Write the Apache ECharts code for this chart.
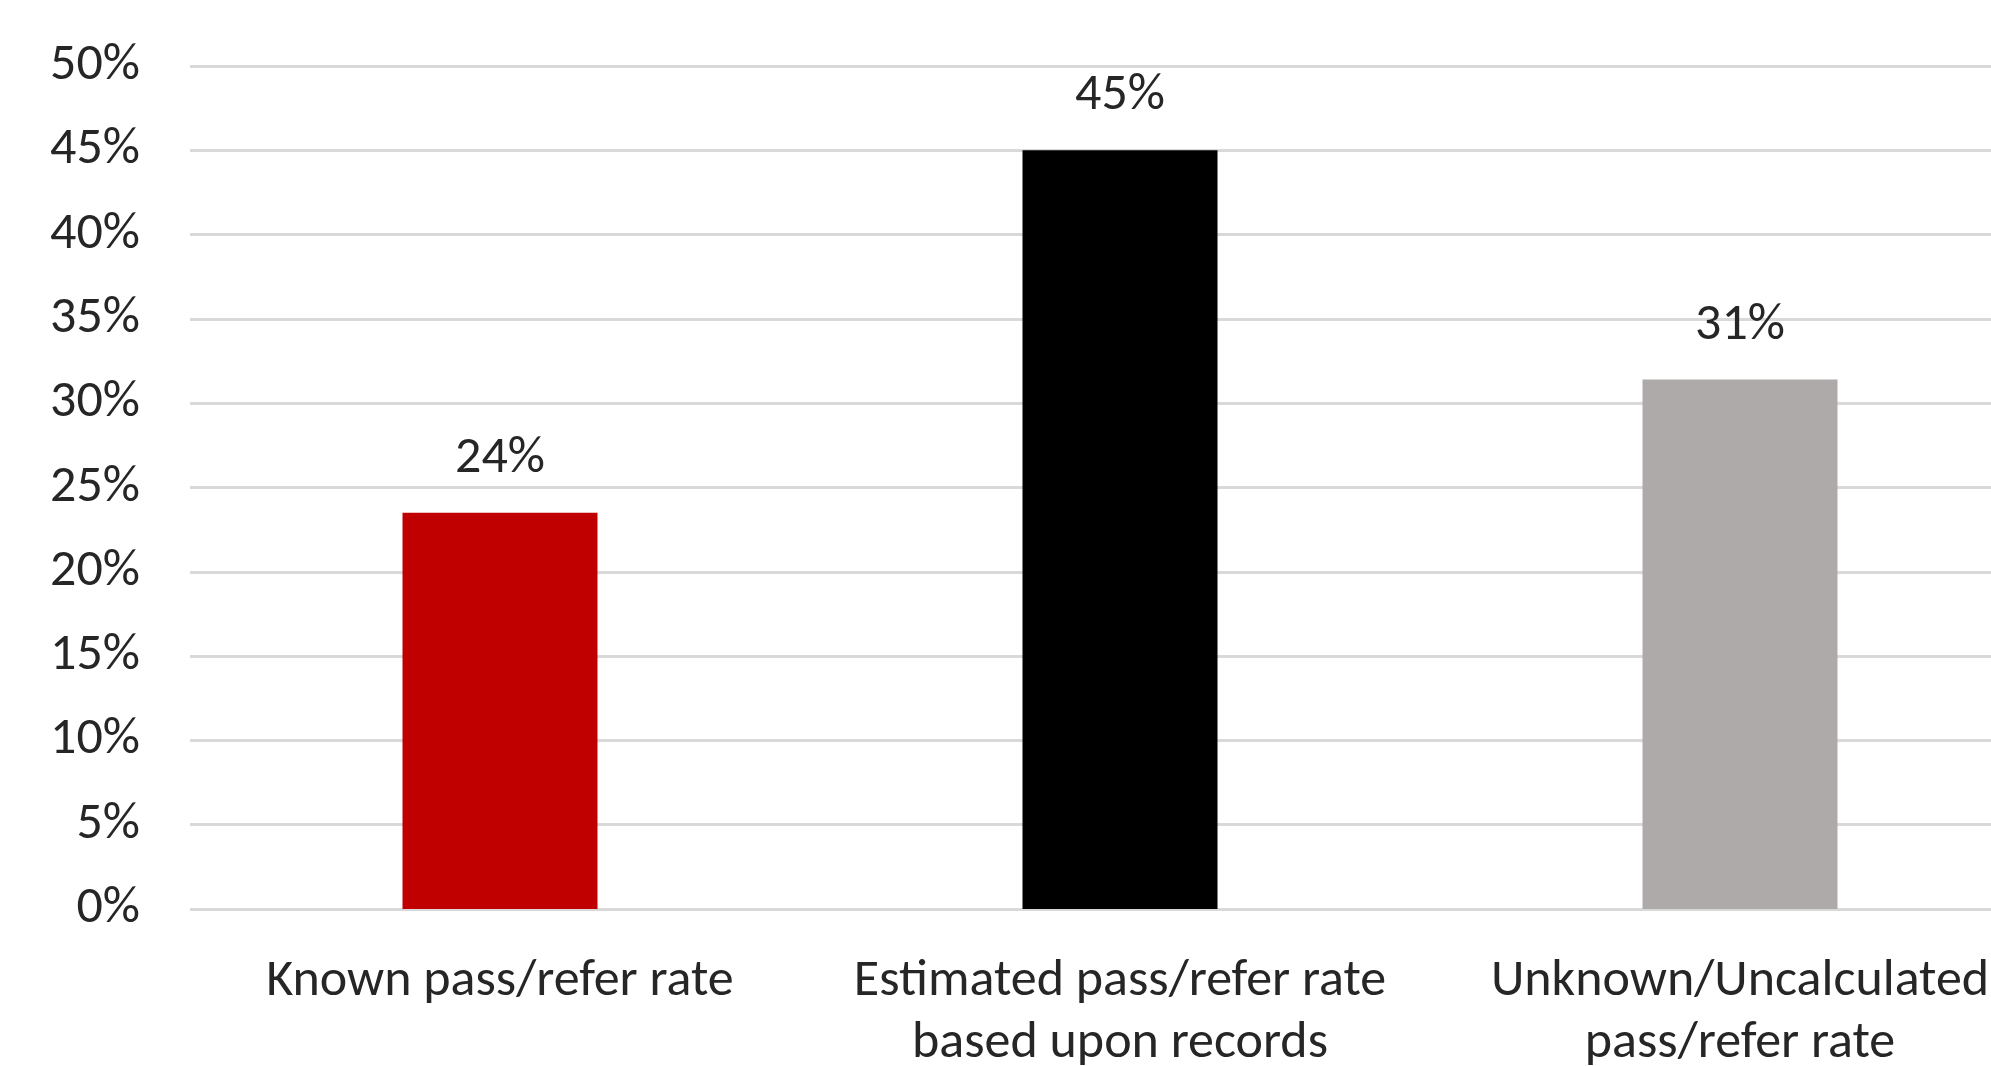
<!DOCTYPE html>
<html lang="en">

<head>
    <meta charset="UTF-8">
    <title>Pass/refer rates</title>
    <script src="https://cdn.jsdelivr.net/npm/echarts@6/dist/echarts.min.js"></script>
    <style>
        html, body { margin: 0; padding: 0; background: #fff; }
        #main { width: 1991px; height: 1066px; }
    </style>
</head>

<body>
    <div id="main"></div>
    <script>
        const categories = ['Known pass/refer rate', 'Estimated pass/refer rate\nbased upon records', 'Unknown/Uncalculated\npass/refer rate'];
        const rates = [23.5, 45.0, 31.4];
        const barColors = ['#c00000', '#000000', '#aeaaaa'];
        const yTicks = [0, 5, 10, 15, 20, 25, 30, 35, 40, 45, 50];

        const font = 'Carlito, Lato, sans-serif';
        const textColor = '#262626';

        const chart = echarts.init(document.getElementById('main'));

        // the plot runs past the right edge of the canvas, like the original
        chart.setOption({
            animation: false,
            grid: { left: 190, top: 66, width: 1860, height: 843, outerBoundsMode: 'none' },
            xAxis: {
                type: 'category',
                data: categories,
                axisLine: { show: false },
                axisTick: { show: false },
                axisLabel: {
                    color: textColor,
                    fontFamily: font,
                    fontSize: 52,
                    lineHeight: 62,
                    margin: 42,
                    interval: 0
                }
            },
            yAxis: {
                type: 'value',
                min: yTicks[0],
                max: yTicks[yTicks.length - 1],
                interval: 5,
                axisLine: { show: false },
                axisTick: { show: false },
                splitLine: { lineStyle: { color: '#d9d9d9', width: 3 } },
                axisLabel: {
                    color: textColor,
                    fontFamily: font,
                    fontSize: 52,
                    margin: 50,
                    formatter: '{value}%'
                }
            },
            series: [{
                type: 'bar',
                barWidth: 195,
                data: rates.map((v, i) => ({ value: v, itemStyle: { color: barColors[i] } })),
                label: {
                    show: true,
                    position: 'top',
                    distance: 28,
                    color: textColor,
                    fontFamily: font,
                    fontSize: 52,
                    formatter: p => Math.round(p.value) + '%'
                }
            }]
        });
    </script>
</body>

</html>
